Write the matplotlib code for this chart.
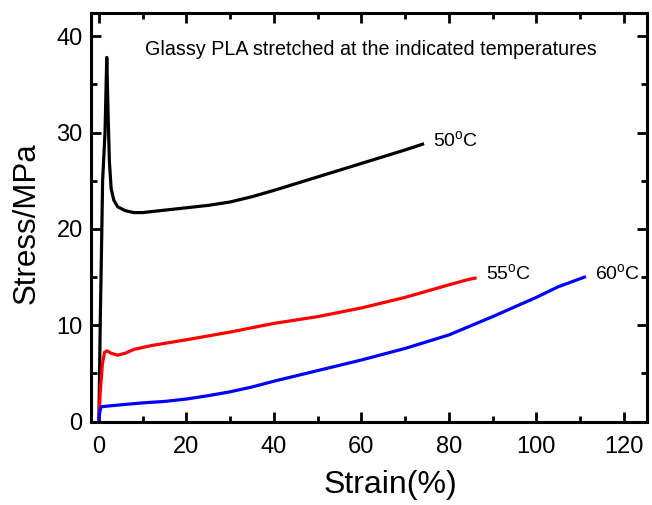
import matplotlib
matplotlib.use("Agg")
import matplotlib.pyplot as plt
from matplotlib.ticker import MultipleLocator

plt.rcParams['font.family'] = ['Liberation Sans', 'DejaVu Sans']
plt.rcParams['mathtext.default'] = 'regular'

# 50 C (black)
x50 = [0, 0.3, 0.6, 0.85, 1.4, 1.8, 2.1, 2.4, 2.8, 3.4, 4.3, 6, 8, 10, 12, 16, 20, 25, 30, 35, 40, 45, 50, 55, 60, 65, 70, 74]
y50 = [0, 10, 18, 25, 30, 37.8, 32, 27, 24.2, 23.0, 22.3, 21.9, 21.7, 21.7, 21.8, 22.0, 22.2, 22.45, 22.8, 23.35, 24.0, 24.7, 25.4, 26.1, 26.8, 27.5, 28.2, 28.8]
# 55 C (red)
x55 = [0, 0.3, 0.8, 1.3, 1.9, 2.8, 4.3, 6, 8, 12, 20, 30, 40, 50, 60, 70, 80, 84, 86]
y55 = [0, 3, 6, 7.2, 7.35, 7.1, 6.9, 7.1, 7.5, 7.9, 8.5, 9.3, 10.2, 10.9, 11.8, 12.9, 14.2, 14.7, 14.9]
# 60 C (blue)
x60 = [0, 0.2, 0.5, 5, 10, 15, 20, 25, 30, 35, 40, 50, 60, 70, 80, 90, 100, 105, 111]
y60 = [0, 1.0, 1.55, 1.75, 1.95, 2.1, 2.35, 2.7, 3.1, 3.6, 4.2, 5.3, 6.4, 7.6, 9.0, 10.9, 12.9, 14.0, 15.0]

fig = plt.figure(figsize=(6.52, 5.05), dpi=100)
ax = fig.add_axes([0.1396, 0.165, 0.8527, 0.809])

ax.plot(x50, y50, color='black', lw=2.3)
ax.plot(x55, y55, color='#ff0000', lw=2.3)
ax.plot(x60, y60, color='#0000ff', lw=2.3)

ax.set_xlim(-1.8, 125.3)
ax.set_ylim(0, 42.4)
ax.xaxis.set_major_locator(MultipleLocator(20))
ax.xaxis.set_minor_locator(MultipleLocator(10))
ax.yaxis.set_major_locator(MultipleLocator(10))
ax.yaxis.set_minor_locator(MultipleLocator(5))
ax.tick_params(which='both', direction='in', top=True, right=True, width=2)
ax.tick_params(which='major', length=7, labelsize=17)
ax.tick_params(which='minor', length=4)
ax.tick_params(axis='x', pad=10)
ax.tick_params(axis='y', pad=6)
for s in ax.spines.values():
    s.set_linewidth(2.2)

ax.set_xlabel('Strain(%)', fontsize=23)
ax.xaxis.set_label_coords(0.538, -0.118)
ax.set_ylabel('Stress/MPa', fontsize=22.5)
ax.yaxis.set_label_coords(-0.089, 0.487)

ax.text(10.5, 38.6, 'Glassy PLA stretched at the indicated temperatures', fontsize=14.2, va='center', ha='left')
ax.text(76.3, 29.2, r'50$^{o}$C', fontsize=14, va='center', ha='left')
ax.text(88.6, 15.4, r'55$^{o}$C', fontsize=14, va='center', ha='left')
ax.text(113.4, 15.4, r'60$^{o}$C', fontsize=14, va='center', ha='left')

fig.savefig('out.png', dpi=100)
